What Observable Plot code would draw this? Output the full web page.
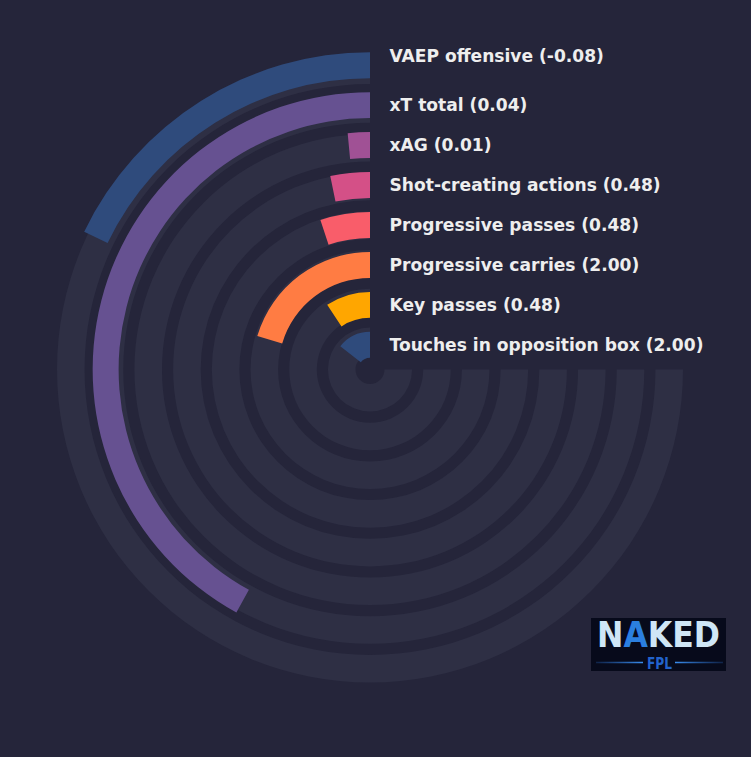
<!DOCTYPE html>
<html>
<head>
<meta charset="utf-8">
<script src="https://cdn.jsdelivr.net/npm/d3@7"></script>
<script src="https://cdn.jsdelivr.net/npm/@observablehq/plot@0.6"></script>
<style>
  html, body { margin: 0; padding: 0; background: #25253a; }
  #chart { position: relative; width: 751px; height: 757px; overflow: hidden; background: #25253a; }
  #chart svg { position: absolute; left: 0; top: 0; }
</style>
</head>
<body>
<div id="chart"></div>
<script>
// ---- data (outer ring -> inner ring) ----
const metrics = [
  "VAEP offensive",
  "xT total",
  "xAG",
  "Shot-creating actions",
  "Progressive passes",
  "Progressive carries",
  "Key passes",
  "Touches in opposition box"
];
const values = [-0.08, 0.04, 0.01, 0.48, 0.48, 2.00, 0.48, 2.00];
// bar length (percentile, 100 = full 270° track)
const percentiles = [23.8, 56.0, 2.0, 4.3, 6.8, 27.2, 12.4, 19.3];
const colors = ["#2f4b7c", "#665191", "#a05195", "#d45087", "#f95d6a", "#ff7c43", "#ffa600", "#2f4b7c"];
const pctDomain = [0, 100];

const rows = metrics.map((m, i) => ({metric: m, value: values[i], pct: percentiles[i], color: colors[i]}));

// ---- layout ----
const W = 751, H = 757;
const CX = 370, CY = 369.5;
const BG = "#25253a", TRACK = "#2e2f44";

const rad = (deg) => deg * Math.PI / 180;

// radial arc mark built from Plot's scales: x = angle (degrees), y = band (ring)
function ringArcs(data, {from, to, fill}) {
  return (index, scales) => {
    const {x, y} = scales;
    const bw = typeof y.bandwidth === "function" ? y.bandwidth() : y.bandwidth;
    const arc = d3.arc();
    const g = d3.create("svg:g").attr("transform", `translate(${CX},${CY})`);
    g.selectAll("path").data(data).join("path")
      .attr("d", (d) => {
        const outer = CY - y(d.metric);
        return arc({
          innerRadius: outer - bw,
          outerRadius: outer,
          startAngle: -rad(x(from(d))),
          endAngle: -rad(x(to(d)))
        });
      })
      .attr("fill", fill);
    return g.node();
  };
}

function logoMark() {
  return () => {
    const g = d3.create("svg:g").attr("text-anchor", "start");
    const defs = g.append("defs");
    const lg = defs.append("linearGradient").attr("id", "logoLine")
      .attr("gradientUnits", "userSpaceOnUse").attr("x1", 596).attr("x2", 643).attr("y1", 0).attr("y2", 0);
    lg.append("stop").attr("offset", "0").attr("stop-color", "#2a6fd0").attr("stop-opacity", 0.25);
    lg.append("stop").attr("offset", "1").attr("stop-color", "#3a8ef0").attr("stop-opacity", 1);
    const lg2 = defs.append("linearGradient").attr("id", "logoLine2")
      .attr("gradientUnits", "userSpaceOnUse").attr("x1", 675).attr("x2", 723).attr("y1", 0).attr("y2", 0);
    lg2.append("stop").attr("offset", "0").attr("stop-color", "#3a8ef0").attr("stop-opacity", 1);
    lg2.append("stop").attr("offset", "1").attr("stop-color", "#2a6fd0").attr("stop-opacity", 0.25);
    g.append("rect").attr("x", 591).attr("y", 618).attr("width", 135).attr("height", 53).attr("fill", "#070a1b");
    const t = g.append("text")
      .attr("x", 597).attr("y", 647)
      .attr("text-anchor", "start")
      .attr("font-family", "DejaVu Sans Condensed, DejaVu Sans")
      .attr("font-weight", "bold")
      .attr("font-size", 36)
      .attr("textLength", 123)
      .attr("lengthAdjust", "spacingAndGlyphs")
      .attr("fill", "#cfe6f6");
    t.append("tspan").text("N");
    t.append("tspan").attr("fill", "#2b7fe0").text("A");
    t.append("tspan").text("KED");
    g.append("line").attr("x1", 596).attr("x2", 643).attr("y1", 662.5).attr("y2", 662.5)
      .attr("stroke", "url(#logoLine)").attr("stroke-width", 1.5);
    g.append("line").attr("x1", 675).attr("x2", 723).attr("y1", 662.5).attr("y2", 662.5)
      .attr("stroke", "url(#logoLine2)").attr("stroke-width", 1.5);
    g.append("text").attr("x", 647).attr("y", 668.5)
      .attr("text-anchor", "start")
      .attr("font-family", "DejaVu Sans Condensed, DejaVu Sans")
      .attr("font-weight", "bold")
      .attr("font-size", 15)
      .attr("textLength", 25)
      .attr("lengthAdjust", "spacingAndGlyphs")
      .attr("fill", "#2263cc")
      .text("FPL");
    return g.node();
  };
}

const angleScale = {type: "linear", domain: pctDomain, range: [0, 270], axis: null};

// ---- tracks (background rings) ----
const tracks = Plot.plot({
  width: W, height: H,
  margin: 0, marginLeft: 0, marginRight: 0, marginTop: 0, marginBottom: 0,
  style: {background: BG, overflow: "visible"},
  x: angleScale,
  y: {type: "band", domain: metrics, range: [CY - 313, CY - 14.5], paddingInner: 0.288, paddingOuter: 0, round: false, axis: null},
  marks: [
    ringArcs(rows, {from: () => pctDomain[0], to: () => pctDomain[1], fill: TRACK})
  ]
});

// ---- bars + labels ----
const labelStyle = {
  y: "metric",
  text: (d) => `${d.metric} (${d.value.toFixed(2)})`,
  frameAnchor: "left",
  textAnchor: "start",
  dx: 389,
  fill: "#eeeeee",
  fontSize: 17.1,
  fontWeight: "bold",
  fontFamily: "DejaVu Sans"
};

const bars = Plot.plot({
  width: W, height: H,
  margin: 0, marginLeft: 0, marginRight: 0, marginTop: 0, marginBottom: 0,
  style: {background: "transparent", overflow: "visible"},
  x: angleScale,
  y: {type: "band", domain: metrics, range: [CY - 317.3, CY - 11.7], paddingInner: 0.35, paddingOuter: 0, round: false, axis: null},
  marks: [
    ...rows.map((r) => ringArcs([r], {from: () => pctDomain[0], to: (d) => d.pct, fill: r.color})),
    Plot.text(rows.filter((d) => d.metric === metrics[0]), {...labelStyle, dy: -8.8}),
    Plot.text(rows.filter((d) => d.metric !== metrics[0]), labelStyle),
    logoMark()
  ]
});

const chart = document.getElementById("chart");
chart.appendChild(tracks);
chart.appendChild(bars);
</script>
</body>
</html>
